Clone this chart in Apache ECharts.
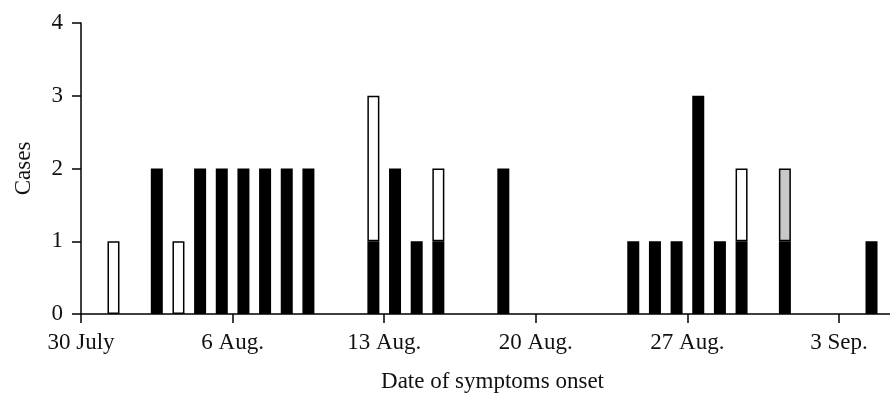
<!DOCTYPE html>
<html>
<head>
<meta charset="utf-8">
<script src="https://cdn.jsdelivr.net/npm/echarts@6/dist/echarts.min.js"></script>
<style>
    html, body { margin: 0; padding: 0; background: #fff; }
    #chart { width: 890px; height: 394px; }
</style>
</head>
<body>
<div id="chart"></div>
<script>
// days counted from 30 July
var tickLabels = ['30 July', '6 Aug.', '13 Aug.', '20 Aug.', '27 Aug.', '3 Sep.'];
var onsetDay   = [1, 3, 4, 5, 6, 7, 8, 9, 10, 13, 14, 15, 16, 19, 25, 26, 27, 28, 29, 30, 32, 36];
var blackCases = [0, 2, 0, 2, 2, 2, 2, 2, 2, 1, 2, 1, 1, 2, 1, 1, 1, 3, 1, 1, 1, 1];
var whiteCases = [1, 0, 1, 0, 0, 0, 0, 0, 0, 2, 0, 0, 1, 0, 0, 0, 0, 0, 0, 1, 0, 0];
var greyCases  = [0, 0, 0, 0, 0, 0, 0, 0, 0, 0, 0, 0, 0, 0, 0, 0, 0, 0, 0, 0, 1, 0];

var numDays = 38;

document.addEventListener('DOMContentLoaded', function() {
    var myChart = echarts.init(document.getElementById('chart'));

    var days = [];
    for (var i = 0; i < numDays; i++) days.push(i);

    // put the sparse counts onto the daily axis
    function spread(vals) {
        var out = days.map(function() { return '-'; });
        onsetDay.forEach(function(d, i) {
            if (vals[i]) out[d] = vals[i];
        });
        return out;
    }

    var font = { fontFamily: 'Liberation Serif', fontSize: 23, color: '#111' };

    function barSeries(name, vals, color) {
        return {
            name: name,
            type: 'bar',
            stack: 'cases',
            barWidth: 12,
            data: spread(vals),
            itemStyle: { color: color, borderColor: '#000', borderWidth: 1.5 }
        };
    }

    var option = {
        animation: false,
        grid: { left: 81, right: -14, top: 23, bottom: 80, outerBoundsMode: 'none' },
        xAxis: [
            { type: 'category', data: days, show: false },
            {
                type: 'value',
                position: 'bottom',
                min: 0,
                max: numDays,
                interval: 7,
                name: 'Date of symptoms onset',
                nameLocation: 'middle',
                nameGap: 56,
                nameTextStyle: font,
                axisLine: { lineStyle: { color: '#000', width: 1.5 } },
                axisTick: { length: 9, lineStyle: { color: '#000', width: 1.5 } },
                axisLabel: Object.assign({
                    margin: 17,
                    formatter: function(v) {
                        return v % 7 === 0 && tickLabels[v / 7] ? tickLabels[v / 7] : '';
                    }
                }, font),
                splitLine: { show: false }
            }
        ],
        yAxis: {
            type: 'value',
            min: 0,
            max: 4,
            interval: 1,
            name: 'Cases',
            nameLocation: 'middle',
            nameGap: 46,
            nameTextStyle: font,
            axisLine: { show: true, lineStyle: { color: '#000', width: 1.5 } },
            axisTick: { show: true, length: 9, lineStyle: { color: '#000', width: 1.5 } },
            axisLabel: Object.assign({ margin: 18 }, font),
            splitLine: { show: false }
        },
        series: [
            barSeries('black', blackCases, '#000'),
            barSeries('white', whiteCases, '#fff'),
            barSeries('grey', greyCases, '#c8c8c8')
        ]
    };

    myChart.setOption(option);
});
</script>
</body>
</html>
